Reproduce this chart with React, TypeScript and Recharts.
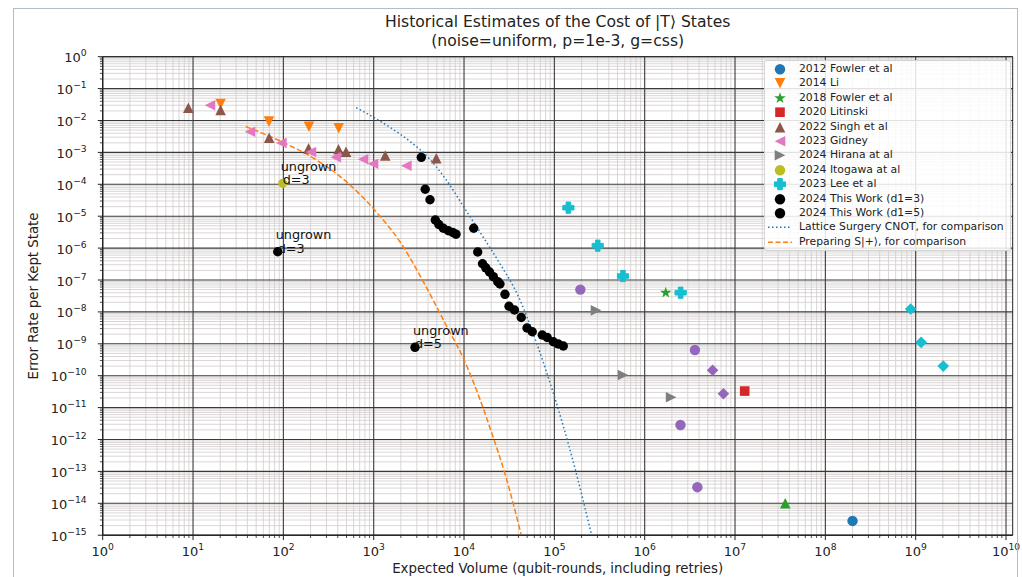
import React from 'react';
import {
  ComposedChart,
  Scatter,
  Line,
  XAxis,
  YAxis,
  CartesianGrid,
  ReferenceArea,
  Legend,
} from 'recharts';

const FONT = '"DejaVu Sans", Verdana, sans-serif';
const C = {
  blue: '#1f77b4',
  orange: '#ff7f0e',
  green: '#2ca02c',
  red: '#d62728',
  purple: '#9467bd',
  brown: '#8c564b',
  pink: '#e377c2',
  gray: '#7f7f7f',
  olive: '#bcbd22',
  cyan: '#17becf',
  black: '#000000',
};

// ---------- axes ----------
const xExponents = [0, 1, 2, 3, 4, 5, 6, 7, 8, 9, 10];
const yExponents = [0, -1, -2, -3, -4, -5, -6, -7, -8, -9, -10, -11, -12, -13, -14, -15];
const minorMultipliers = [2, 3, 4, 5, 6, 7, 8, 9];
const X_DOMAIN: [number, number] = [1, 1.186e10];
const Y_DOMAIN: [number, number] = [1e-15, 1];

const xMajorTicks = xExponents.map((e) => Math.pow(10, e));
const yMajorTicks = yExponents.map((e) => Math.pow(10, e));
const xMinorTicks = xExponents
  .slice(0, -1)
  .flatMap((e) => minorMultipliers.map((m) => m * Math.pow(10, e)));
const yMinorTicks = yExponents
  .slice(1)
  .flatMap((e) => minorMultipliers.map((m) => m * Math.pow(10, e)));
const xAllTicks = [...xMajorTicks, ...xMinorTicks].sort((a, b) => a - b);
const yAllTicks = [...yMajorTicks, ...yMinorTicks].sort((a, b) => a - b);

// ---------- data ----------
const fowler2012 = [{ x: 2.0e8, y: 2.8e-15 }];
const li2014 = [
  { x: 20.2, y: 0.033 },
  { x: 69.3, y: 0.0092 },
  { x: 192, y: 0.0064 },
  { x: 410, y: 0.0057 },
];
const fowler2018 = [{ x: 1.71e6, y: 4.0e-8 }];
const fowler2018Extra = [{ x: 3.6e7, y: 1.0e-14 }];
const litinski2020 = [{ x: 1.28e7, y: 3.3e-11 }];
const singh2022 = [
  { x: 8.87, y: 0.0252 },
  { x: 20.2, y: 0.0213 },
  { x: 69.6, y: 0.00289 },
  { x: 190, y: 0.00134 },
  { x: 408, y: 0.00125 },
  { x: 494, y: 0.00105 },
  { x: 1341, y: 0.0008 },
  { x: 4932, y: 0.000653 },
];
const gidney2023 = [
  { x: 15.4, y: 0.03 },
  { x: 42.7, y: 0.00446 },
  { x: 94.9, y: 0.00197 },
  { x: 202, y: 0.00103 },
  { x: 380, y: 0.000702 },
  { x: 762, y: 0.000612 },
  { x: 983, y: 0.000442 },
  { x: 2296, y: 0.00038 },
];
const hirana2024 = [
  { x: 2.89e5, y: 1.12e-8 },
  { x: 5.75e5, y: 1.05e-10 },
  { x: 1.96e6, y: 2.1e-11 },
];
const itogawa2024 = [{ x: 98.4, y: 1.07e-4 }];
const lee2023 = [
  { x: 1.43e5, y: 1.85e-5 },
  { x: 3.02e5, y: 1.19e-6 },
  { x: 5.75e5, y: 1.33e-7 },
  { x: 2.5e6, y: 4.0e-8 },
];
const lee2023Diamonds = [
  { x: 8.8e8, y: 1.23e-8 },
  { x: 1.15e9, y: 1.11e-9 },
  { x: 2.02e9, y: 2.0e-10 },
];
const otherCircles = [
  { x: 1.94e5, y: 5.0e-8 },
  { x: 3.6e6, y: 6.4e-10 },
  { x: 2.49e6, y: 2.85e-12 },
  { x: 3.83e6, y: 3.2e-14 },
];
const otherDiamonds = [
  { x: 5.65e6, y: 1.48e-10 },
  { x: 7.44e6, y: 2.73e-11 },
];
const thisWorkD3 = [
  { x: 86.6, y: 7.7e-7 },
  { x: 3365, y: 7.0e-4 },
  { x: 3718, y: 6.97e-5 },
  { x: 4201, y: 3.29e-5 },
  { x: 4810, y: 7.6e-6 },
  { x: 5260, y: 5.5e-6 },
  { x: 5900, y: 4.18e-6 },
  { x: 6700, y: 3.5e-6 },
  { x: 7515, y: 3.08e-6 },
  { x: 8150, y: 2.73e-6 },
];
const thisWorkD5 = [
  { x: 2866, y: 7.76e-10 },
  { x: 12800, y: 4.18e-6 },
  { x: 14170, y: 7.55e-7 },
  { x: 16020, y: 3.24e-7 },
  { x: 17420, y: 2.41e-7 },
  { x: 19150, y: 1.78e-7 },
  { x: 21100, y: 1.27e-7 },
  { x: 23600, y: 8.85e-8 },
  { x: 25000, y: 7.5e-8 },
  { x: 28400, y: 3.56e-8 },
  { x: 31470, y: 1.5e-8 },
  { x: 36200, y: 1.15e-8 },
  { x: 43000, y: 6.67e-9 },
  { x: 49800, y: 3.13e-9 },
  { x: 56900, y: 2.39e-9 },
  { x: 73400, y: 1.89e-9 },
  { x: 83400, y: 1.57e-9 },
  { x: 97300, y: 1.16e-9 },
  { x: 110600, y: 9.86e-10 },
  { x: 125600, y: 8.53e-10 },
];
const annotations = [
  { x: 98.4, y: 1.07e-4, label: 'd=3' },
  { x: 86.6, y: 7.7e-7, label: 'd=3' },
  { x: 2866, y: 7.76e-10, label: 'd=5' },
];
const latticeCnot = [
  { x: 640, y: 0.0251 },
  { x: 1000, y: 0.0126 },
  { x: 1585, y: 5.62e-3 },
  { x: 2512, y: 2.24e-3 },
  { x: 3981, y: 7.08e-4 },
  { x: 6310, y: 1.41e-4 },
  { x: 10000, y: 1.9e-5 },
  { x: 15850, y: 2.51e-6 },
  { x: 25120, y: 3.16e-7 },
  { x: 39810, y: 3.16e-8 },
  { x: 63100, y: 1.12e-9 },
  { x: 100000, y: 2.24e-11 },
  { x: 158500, y: 2.51e-13 },
  { x: 261200, y: 8.9e-16 },
];
const prepS = [
  { x: 38.3, y: 6.46e-3 },
  { x: 100, y: 2.04e-3 },
  { x: 234, y: 5.75e-4 },
  { x: 547, y: 9.55e-5 },
  { x: 1175, y: 1.0e-5 },
  { x: 1954, y: 1.58e-6 },
  { x: 3540, y: 8.9e-8 },
  { x: 6427, y: 3.55e-9 },
  { x: 10000, y: 3.16e-10 },
  { x: 20320, y: 1.58e-12 },
  { x: 28580, y: 7.94e-14 },
  { x: 43550, y: 8.9e-16 },
];

type MarkerKind =
  | 'circle'
  | 'dot'
  | 'smallCircle'
  | 'square'
  | 'triUp'
  | 'triDown'
  | 'triLeft'
  | 'triRight'
  | 'diamond'
  | 'plus'
  | 'star';

const legendItems: { label: string; color: string; marker?: MarkerKind; line?: string }[] = [
  { label: '2012 Fowler et al', color: C.blue, marker: 'circle' },
  { label: '2014 Li', color: C.orange, marker: 'triDown' },
  { label: '2018 Fowler et al', color: C.green, marker: 'star' },
  { label: '2020 Litinski', color: C.red, marker: 'square' },
  { label: '2022 Singh et al', color: C.brown, marker: 'triUp' },
  { label: '2023 Gidney', color: C.pink, marker: 'triLeft' },
  { label: '2024 Hirana at al', color: C.gray, marker: 'triRight' },
  { label: '2024 Itogawa at al', color: C.olive, marker: 'circle' },
  { label: '2023 Lee et al', color: C.cyan, marker: 'plus' },
  { label: '2024 This Work (d1=3)', color: C.black, marker: 'circle' },
  { label: '2024 This Work (d1=5)', color: C.black, marker: 'circle' },
  { label: 'Lattice Surgery CNOT, for comparison', color: C.blue, line: '1.5 2.5' },
  { label: 'Preparing S|+\u27E9, for comparison', color: C.orange, line: '5 2.5' },
];

// ---------- markers ----------
function MarkerShape({ kind, cx, cy, color }: { kind: MarkerKind; cx: number; cy: number; color: string }) {
  if (cx == null || cy == null || isNaN(cx) || isNaN(cy)) return null;
  const s = 5.3;
  const pts = (arr: number[][]) => arr.map(([a, b]) => `${cx + a},${cy + b}`).join(' ');
  switch (kind) {
    case 'circle':
      return <circle cx={cx} cy={cy} r={5.2} fill={color} />;
    case 'dot':
      return <circle cx={cx} cy={cy} r={4.7} fill={color} />;
    case 'smallCircle':
      return <circle cx={cx} cy={cy} r={4.6} fill={color} />;
    case 'square':
      return <rect x={cx - 4.8} y={cy - 4.8} width={9.6} height={9.6} fill={color} />;
    case 'triUp':
      return <polygon points={pts([[0, -s], [-s, s], [s, s]])} fill={color} />;
    case 'triDown':
      return <polygon points={pts([[0, s], [-s, -s], [s, -s]])} fill={color} />;
    case 'triLeft':
      return <polygon points={pts([[-s, 0], [s, -s], [s, s]])} fill={color} />;
    case 'triRight':
      return <polygon points={pts([[s, 0], [-s, -s], [-s, s]])} fill={color} />;
    case 'diamond':
      return <polygon points={pts([[0, -5.8], [5.8, 0], [0, 5.8], [-5.8, 0]])} fill={color} />;
    case 'plus': {
      const e = 5.6;
      const a = 2.3;
      return (
        <polygon
          points={pts([
            [-a, -e], [a, -e], [a, -a], [e, -a], [e, a], [a, a],
            [a, e], [-a, e], [-a, a], [-e, a], [-e, -a], [-a, -a],
          ])}
          fill={color}
          stroke={color}
          strokeWidth={1}
          strokeLinejoin="round"
        />
      );
    }
    case 'star': {
      const arr: number[][] = [];
      for (let i = 0; i < 10; i++) {
        const r = i % 2 === 0 ? 6 : 2.4;
        const ang = -Math.PI / 2 + (i * Math.PI) / 5;
        arr.push([r * Math.cos(ang), r * Math.sin(ang)]);
      }
      return <polygon points={pts(arr)} fill={color} />;
    }
    default:
      return null;
  }
}

const shapeOf = (kind: MarkerKind, color: string) => (props: any) => (
  <MarkerShape kind={kind} cx={props.cx} cy={props.cy} color={color} />
);

// ---------- ticks ----------
const isMajor = (v: number) => {
  const l = Math.log10(v);
  return Math.abs(l - Math.round(l)) < 1e-6;
};

const XTick = (props: any) => {
  const { x, y, payload } = props;
  const v = payload.value;
  if (!isMajor(v)) {
    return <line x1={x} x2={x} y1={y} y2={y + 2.8} stroke="#222" strokeWidth={0.8} />;
  }
  const e = Math.round(Math.log10(v));
  return (
    <g>
      <line x1={x} x2={x} y1={y} y2={y + 4.9} stroke="#222" strokeWidth={1} />
      <text x={x} y={y + 20.5} textAnchor="middle" fontSize={13} fontFamily={FONT} fill="#222">
        10
        <tspan dy={-6} fontSize={9.2}>
          {String(e).replace('-', '\u2212')}
        </tspan>
      </text>
    </g>
  );
};

const YTick = (props: any) => {
  const { x, y, payload } = props;
  const v = payload.value;
  if (!isMajor(v)) {
    return <line x1={x - 2.8} x2={x} y1={y} y2={y} stroke="#222" strokeWidth={0.8} />;
  }
  const e = Math.round(Math.log10(v));
  return (
    <g>
      <line x1={x - 4.9} x2={x} y1={y} y2={y} stroke="#222" strokeWidth={1} />
      <text x={x - 16} y={y + 5.5} textAnchor="end" fontSize={13} fontFamily={FONT} fill="#222">
        10
        <tspan dy={-6} fontSize={9.2}>
          {String(e).replace('-', '\u2212')}
        </tspan>
      </text>
    </g>
  );
};

// ---------- legend ----------
const LegendBox = () => (
  <div
    style={{
      border: '1px solid #d4d4d4',
      borderRadius: 3,
      background: 'rgba(255,255,255,0.85)',
      padding: '1px 6px 1px 0',
      fontFamily: FONT,
      fontSize: 10.8,
      color: '#222',
      lineHeight: '14.4px',
      whiteSpace: 'nowrap',
    }}
  >
    {legendItems.map((it) => (
      <div key={it.label} style={{ height: 14.4, display: 'flex', alignItems: 'center' }}>
        <svg width={34} height={14.4} style={{ flex: 'none' }}>
          {it.marker ? (
            <MarkerShape kind={it.marker} cx={15} cy={7.2} color={it.color} />
          ) : (
            <line
              x1={3}
              x2={27}
              y1={7.2}
              y2={7.2}
              stroke={it.color}
              strokeWidth={1.5}
              strokeDasharray={it.line}
            />
          )}
        </svg>
        <span>{it.label}</span>
      </div>
    ))}
  </div>
);

// ---------- annotation shape ----------
const annotationShape = (props: any) => {
  const { cx, cy, payload } = props;
  if (cx == null || cy == null) return null;
  return (
    <g>
      <text x={cx - 2} y={cy - 12.5} fontSize={12.8} fontFamily={FONT} fill="#111">
        ungrown
      </text>
      <text x={cx} y={cy + 1} fontSize={12.8} fontFamily={FONT} fill="#111">
        {payload?.label}
      </text>
    </g>
  );
};

export default function App() {
  return (
    <div style={{ position: 'absolute', left: 0, top: 0, width: 1022, height: 577, background: '#fff' }}>
      <ComposedChart
        width={1022}
        height={577}
        margin={{ top: 56.7, right: 9.3, bottom: 0, left: 0 }}
      >
        <CartesianGrid
          verticalValues={xMinorTicks}
          horizontalValues={yMinorTicks}
          stroke="#d2cbcb"
          strokeWidth={0.8}
        />
        <CartesianGrid
          verticalValues={xMajorTicks}
          horizontalValues={yMajorTicks}
          stroke="#3a3a3a"
          strokeWidth={1.1}
        />
        <XAxis
          dataKey="x"
          type="number"
          scale="log"
          domain={X_DOMAIN}
          allowDataOverflow
          ticks={xAllTicks}
          interval={0}
          tick={<XTick />}
          tickLine={false}
          tickSize={0}
          tickMargin={0}
          axisLine={{ stroke: '#222', strokeWidth: 1 }}
          height={41.8}
        />
        <YAxis
          dataKey="y"
          type="number"
          scale="log"
          domain={Y_DOMAIN}
          allowDataOverflow
          ticks={yAllTicks}
          interval={0}
          tick={<YTick />}
          tickLine={false}
          tickSize={0}
          tickMargin={0}
          axisLine={{ stroke: '#222', strokeWidth: 1 }}
          width={102.7}
        />
        <ReferenceArea
          x1={X_DOMAIN[0]}
          x2={X_DOMAIN[1]}
          y1={Y_DOMAIN[0]}
          y2={Y_DOMAIN[1]}
          fill="none"
          fillOpacity={0}
          stroke="#222"
          strokeWidth={1}
          ifOverflow="visible"
        />
        <Line
          data={latticeCnot}
          dataKey="y"
          type="monotone"
          stroke={C.blue}
          strokeWidth={1.5}
          strokeDasharray="1.5 2.5"
          dot={false}
          activeDot={false}
          isAnimationActive={false}
        />
        <Line
          data={prepS}
          dataKey="y"
          type="monotone"
          stroke={C.orange}
          strokeWidth={1.5}
          strokeDasharray="5.5 2.5"
          dot={false}
          activeDot={false}
          isAnimationActive={false}
        />
        <Scatter data={fowler2012} shape={shapeOf('circle', C.blue)} isAnimationActive={false} />
        <Scatter data={li2014} shape={shapeOf('triDown', C.orange)} isAnimationActive={false} />
        <Scatter data={fowler2018} shape={shapeOf('star', C.green)} isAnimationActive={false} />
        <Scatter data={fowler2018Extra} shape={shapeOf('triUp', C.green)} isAnimationActive={false} />
        <Scatter data={litinski2020} shape={shapeOf('square', C.red)} isAnimationActive={false} />
        <Scatter data={singh2022} shape={shapeOf('triUp', C.brown)} isAnimationActive={false} />
        <Scatter data={gidney2023} shape={shapeOf('triLeft', C.pink)} isAnimationActive={false} />
        <Scatter data={hirana2024} shape={shapeOf('triRight', C.gray)} isAnimationActive={false} />
        <Scatter data={itogawa2024} shape={shapeOf('smallCircle', C.olive)} isAnimationActive={false} />
        <Scatter data={lee2023} shape={shapeOf('plus', C.cyan)} isAnimationActive={false} />
        <Scatter data={lee2023Diamonds} shape={shapeOf('diamond', C.cyan)} isAnimationActive={false} />
        <Scatter data={otherCircles} shape={shapeOf('circle', C.purple)} isAnimationActive={false} />
        <Scatter data={otherDiamonds} shape={shapeOf('diamond', C.purple)} isAnimationActive={false} />
        <Scatter data={thisWorkD3} shape={shapeOf('dot', C.black)} isAnimationActive={false} />
        <Scatter data={thisWorkD5} shape={shapeOf('dot', C.black)} isAnimationActive={false} />
        <Scatter data={annotations} shape={annotationShape} isAnimationActive={false} />
        <Legend
          layout="vertical"
          align="center"
          verticalAlign="middle"
          content={() => <LegendBox />}
          wrapperStyle={{ left: 764, top: 60, width: 'auto', height: 'auto' }}
        />
      </ComposedChart>
      <svg
        width={1022}
        height={577}
        style={{ position: 'absolute', left: 0, top: 0, pointerEvents: 'none' }}
      >
        <rect x={13.5} y={8.5} width={1004} height={580} fill="none" stroke="#b4bcc8" strokeWidth={1} />
        <text x={557.7} y={27} textAnchor="middle" fontSize={15.6} fontFamily={FONT} fill="#222">
          Historical Estimates of the Cost of |T{'\u27E9'} States
        </text>
        <text x={557.7} y={45.5} textAnchor="middle" fontSize={15.6} fontFamily={FONT} fill="#222">
          (noise=uniform, p=1e-3, g=css)
        </text>
        <text x={557.7} y={572.5} textAnchor="middle" fontSize={13.3} fontFamily={FONT} fill="#222">
          Expected Volume (qubit-rounds, including retries)
        </text>
        <text
          x={37.5}
          y={296}
          textAnchor="middle"
          fontSize={13.3}
          fontFamily={FONT}
          fill="#222"
          transform="rotate(-90 37.5 296)"
        >
          Error Rate per Kept State
        </text>
      </svg>
    </div>
  );
}
